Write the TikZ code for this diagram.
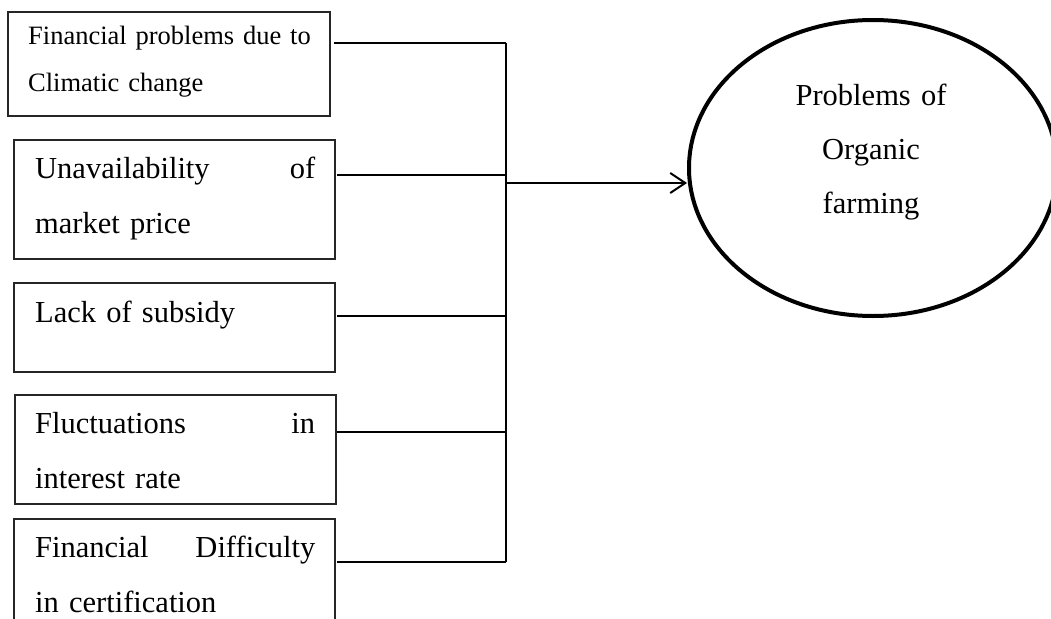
\documentclass[tikz,border=0pt]{standalone}
\usepackage{fontspec}
\setmainfont{Liberation Serif}
\usetikzlibrary{arrows.meta,shapes.geometric}
\tikzset{
  causebox/.style={draw=black!85, line width=1.2pt, rectangle, inner sep=0pt},
  causetext/.style={inner sep=0pt, anchor=base west, text width=280pt, align=left,
    font=\fontsize{30.5}{55}\selectfont},
  smalltext/.style={causetext, text width=300pt, font=\fontsize{26.5}{47}\selectfont},
  link/.style={line width=1.5pt, black},
  goalshape/.style={draw, ellipse, line width=4pt, minimum width=368pt, minimum height=296pt, inner sep=0pt},
  goaltext/.style={inner sep=0pt, anchor=base, text width=220pt, align=center,
    font=\fontsize{30.5}{54}\selectfont}
}
\begin{document}
\begin{tikzpicture}[x=1pt,y=-1pt]
\useasboundingbox (0,0) rectangle (1051,618);
\clip (0,0) rectangle (1051,618);
% boxes
\node[causebox, minimum width=322pt, minimum height=104pt] (b1) at (169,64) {};
\node[causebox, minimum width=321pt, minimum height=119pt] (b2) at (174.5,199.5) {};
\node[causebox, minimum width=321pt, minimum height=89pt] (b3) at (174.5,327.5) {};
\node[causebox, minimum width=321pt, minimum height=109pt] (b4) at (175.5,449.5) {};
\node[causebox, minimum width=321pt, minimum height=130pt] (b5) at (174.5,584) {};
% texts
\node[smalltext] (t1) at (28,45) {Financial problems due to\\Climatic change};
\node[causetext] (t2) at (35,178) {Unavailability\hfill of\\market price};
\node[causetext] (t3) at (35,322) {Lack of subsidy};
\node[causetext] (t4) at (35,433) {Fluctuations\hfill in\\interest rate};
\node[causetext] (t5) at (35,557) {Financial\hfill Difficulty\\in certification};
% goal
\node[goalshape] (goal) at (873,168) {};
\node[goaltext] (gt) at (871,105) {Problems of\\Organic\\farming};
% connectors
\coordinate (s1) at (334,43);
\coordinate (s2) at (337,175);
\coordinate (s3) at (337,316);
\coordinate (s4) at (337,432);
\coordinate (s5) at (337,562);
\coordinate (j1) at (506,43);
\coordinate (j5) at (506,562);
\coordinate (ja) at (506,183);
\draw[link] (j1) -- (j5);
\draw[link] (s1) -- (s1 -| j1);
\draw[link] (s2) -- (s2 -| j1);
\draw[link] (s3) -- (s3 -| j1);
\draw[link] (s4) -- (s4 -| j1);
\draw[link] (s5) -- (s5 -| j1);
\draw[line width=2pt, -{Straight Barb[length=15pt, width=20pt, line width=2pt]}] (ja) -- (ja -| goal.west);
\end{tikzpicture}
\end{document}
